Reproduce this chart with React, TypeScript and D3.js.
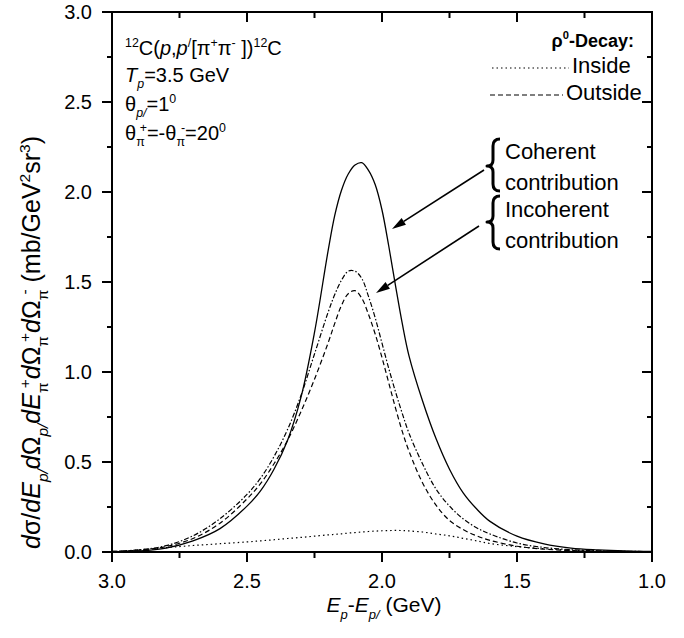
import React from "react";
import * as d3 from "d3";

// ---------- data ----------
const energy = [3.0, 2.9, 2.8, 2.7, 2.6, 2.5, 2.45, 2.4, 2.35, 2.3, 2.25, 2.2, 2.175, 2.15, 2.125, 2.1, 2.075, 2.05, 2.025, 2.0, 1.975, 1.95, 1.925, 1.9, 1.85, 1.8, 1.75, 1.7, 1.65, 1.6, 1.5, 1.4, 1.3, 1.2, 1.1, 1.0];

const coherent = [0.001, 0.006, 0.022, 0.062, 0.13, 0.255, 0.34, 0.46, 0.62, 0.86, 1.22, 1.67, 1.87, 2.01, 2.1, 2.15, 2.163, 2.12, 2.04, 1.9, 1.7, 1.48, 1.27, 1.09, 0.84, 0.63, 0.46, 0.33, 0.24, 0.17, 0.088, 0.045, 0.022, 0.012, 0.006, 0.003];
const incoherent = [0.003, 0.012, 0.035, 0.09, 0.185, 0.32, 0.41, 0.53, 0.68, 0.87, 1.1, 1.33, 1.43, 1.51, 1.56, 1.56, 1.52, 1.42, 1.3, 1.16, 1.02, 0.89, 0.77, 0.66, 0.49, 0.35, 0.255, 0.185, 0.135, 0.1, 0.05, 0.025, 0.013, 0.007, 0.004, 0.002];
const outside = [0.003, 0.01, 0.03, 0.075, 0.16, 0.295, 0.38, 0.49, 0.62, 0.78, 0.96, 1.16, 1.27, 1.37, 1.435, 1.452, 1.41, 1.32, 1.21, 1.08, 0.94, 0.8, 0.67, 0.56, 0.385, 0.26, 0.175, 0.125, 0.09, 0.065, 0.032, 0.016, 0.008, 0.004, 0.002, 0.001];
const inside = [0.001, 0.012, 0.024, 0.036, 0.046, 0.056, 0.062, 0.068, 0.075, 0.081, 0.088, 0.095, 0.098, 0.101, 0.105, 0.108, 0.111, 0.114, 0.116, 0.118, 0.119, 0.12, 0.119, 0.117, 0.111, 0.1, 0.09, 0.076, 0.062, 0.047, 0.03, 0.018, 0.01, 0.005, 0.002, 0.001];

const xMajor = [3.0, 2.5, 2.0, 1.5, 1.0];
const xMinor = [2.75, 2.25, 1.75, 1.25];
const yMajor = [0, 0.5, 1.0, 1.5, 2.0, 2.5, 3.0];
const yMinor = [0.25, 0.75, 1.25, 1.75, 2.25, 2.75];

const FONT = "'Liberation Sans', Arial, Helvetica, sans-serif";

type Seg = { t: string; it?: boolean; sub?: boolean; sup?: boolean; dx?: number };

function Rich(props: {
  x: number;
  y: number;
  size: number;
  segs: Seg[];
  anchor?: string;
  bold?: boolean;
  transform?: string;
}) {
  const { x, y, size, segs, anchor, bold, transform } = props;
  let level = 0;
  const subOff = size * 0.32;
  const supOff = -size * 0.42;
  return (
    <text
      x={x}
      y={y}
      fontSize={size}
      fontFamily={FONT}
      textAnchor={anchor || "start"}
      fontWeight={bold ? "bold" : "normal"}
      transform={transform}
      fill="#000"
    >
      {segs.map((s, i) => {
        const target = s.sub ? subOff : s.sup ? supOff : 0;
        const dy = target - level;
        level = target;
        return (
          <tspan
            key={i}
            dy={dy}
            dx={s.dx || 0}
            fontStyle={s.it ? "italic" : "normal"}
            fontSize={s.sub || s.sup ? size * 0.62 : size}
          >
            {s.t}
          </tspan>
        );
      })}
    </text>
  );
}

export default function App() {
  const left = 112, right = 652, top = 12, bottom = 552;
  const x = d3.scaleLinear().domain([3.0, 1.0]).range([left, right]);
  const y = d3.scaleLinear().domain([0, 3.0]).range([bottom, top]);

  const line = d3
    .line<number>()
    .x((_, i) => x(energy[i]))
    .y((d) => y(Math.max(0, d)))
    .curve(d3.curveCatmullRom.alpha(0.5));

  const fmt = d3.format(".1f");

  const arrow = (x1: number, y1: number, x2: number, y2: number) => {
    const ang = Math.atan2(y2 - y1, x2 - x1);
    const L = 14, Wd = 4;
    const bx = x2 - L * Math.cos(ang), by = y2 - L * Math.sin(ang);
    const px = -Math.sin(ang) * Wd, py = Math.cos(ang) * Wd;
    return (
      <g>
        <line x1={x1} y1={y1} x2={bx} y2={by} stroke="#000" strokeWidth={1.6} />
        <polygon points={`${x2},${y2} ${bx + px},${by + py} ${bx - px},${by - py}`} fill="#000" />
      </g>
    );
  };

  const brace = (xt: number, t: number, b: number, m: number) => {
    const xs = xt + 6, xe = xt + 13;
    const d = `M${xe},${t} Q${xs},${t} ${xs},${t + 7} L${xs},${m - 6} Q${xs},${m} ${xt},${m} Q${xs},${m} ${xs},${m + 6} L${xs},${b - 7} Q${xs},${b} ${xe},${b}`;
    return <path d={d} fill="none" stroke="#000" strokeWidth={3} strokeLinejoin="round" />;
  };

  return (
    <div style={{ position: "fixed", left: 0, top: 0, width: 684, height: 638, background: "#fff" }}>
      <svg width={684} height={638} style={{ display: "block" }}>
        <rect width={684} height={638} fill="#fff" />

        {/* curves */}
        <path d={line(coherent) || ""} fill="none" stroke="#000" strokeWidth={1.3} />
        <path d={line(incoherent) || ""} fill="none" stroke="#000" strokeWidth={1.2} strokeDasharray="5,2,1.5,2" />
        <path d={line(outside) || ""} fill="none" stroke="#000" strokeWidth={1.2} strokeDasharray="5,3" />
        <path d={line(inside) || ""} fill="none" stroke="#000" strokeWidth={1.2} strokeDasharray="1.5,3" />

        {/* frame */}
        <rect x={left} y={top} width={right - left} height={bottom - top} fill="none" stroke="#000" strokeWidth={2} />

        {/* x ticks */}
        {xMajor.map((v) => (
          <g key={"xm" + v}>
            <line x1={x(v)} x2={x(v)} y1={bottom} y2={bottom + 10} stroke="#000" strokeWidth={2} />
            <line x1={x(v)} x2={x(v)} y1={top} y2={top + 10} stroke="#000" strokeWidth={2} />
            <text x={x(v)} y={588} fontSize={20} fontFamily={FONT} textAnchor="middle">
              {fmt(v)}
            </text>
          </g>
        ))}
        {xMinor.map((v) => (
          <g key={"xn" + v}>
            <line x1={x(v)} x2={x(v)} y1={bottom} y2={bottom + 6} stroke="#000" strokeWidth={2} />
            <line x1={x(v)} x2={x(v)} y1={top} y2={top + 6} stroke="#000" strokeWidth={2} />
          </g>
        ))}
        {/* y ticks */}
        {yMajor.map((v) => (
          <g key={"ym" + v}>
            <line x1={left - 10} x2={left} y1={y(v)} y2={y(v)} stroke="#000" strokeWidth={2} />
            <line x1={right - 10} x2={right} y1={y(v)} y2={y(v)} stroke="#000" strokeWidth={2} />
            <text x={92} y={y(v) + 7} fontSize={20} fontFamily={FONT} textAnchor="end">
              {fmt(v)}
            </text>
          </g>
        ))}
        {yMinor.map((v) => (
          <g key={"yn" + v}>
            <line x1={left - 5} x2={left} y1={y(v)} y2={y(v)} stroke="#000" strokeWidth={2} />
            <line x1={right - 5} x2={right} y1={y(v)} y2={y(v)} stroke="#000" strokeWidth={2} />
          </g>
        ))}

        {/* axis titles */}
        <Rich
          x={384}
          y={612}
          size={21}
          anchor="middle"
          segs={[
            { t: "E", it: true },
            { t: "p", it: true, sub: true },
            { t: "-" },
            { t: "E", it: true },
            { t: "p/", it: true, sub: true },
            { t: " (GeV)" },
          ]}
        />
        <Rich
          x={0}
          y={0}
          size={25}
          anchor="start"
          transform="translate(40,549) rotate(-90)"
          segs={[
            { t: "d", it: true },
            { t: "σ/" },
            { t: "dE", it: true },
            { t: "p/", it: true, sub: true },
            { t: "d", it: true },
            { t: "Ω" },
            { t: "p/", it: true, sub: true },
            { t: "dE", it: true },
            { t: "π", sub: true },
            { t: "+", sup: true, dx: -6 },
            { t: "d", it: true },
            { t: "Ω" },
            { t: "π", sub: true },
            { t: "+", sup: true, dx: -6 },
            { t: "d", it: true },
            { t: "Ω" },
            { t: "π", sub: true },
            { t: "-", sup: true, dx: -5 },
            { t: "  (mb/GeV" },
            { t: "2", sup: true },
            { t: "sr" },
            { t: "3", sup: true },
            { t: ")" },
          ]}
        />

        {/* top-left annotation */}
        <Rich
          x={125}
          y={55}
          size={20}
          segs={[
            { t: "12", sup: true },
            { t: "C(" },
            { t: "p", it: true },
            { t: "," },
            { t: "p", it: true },
            { t: "/", sup: true },
            { t: "[π" },
            { t: "+", sup: true },
            { t: "π" },
            { t: "-", sup: true },
            { t: " ])" },
            { t: "12", sup: true },
            { t: "C" },
          ]}
        />
        <Rich
          x={125}
          y={82}
          size={20}
          segs={[
            { t: "T", it: true },
            { t: "p", it: true, sub: true },
            { t: "=3.5 GeV" },
          ]}
        />
        <Rich
          x={125}
          y={111}
          size={20}
          segs={[
            { t: "θ" },
            { t: "p/", it: true, sub: true },
            { t: "=1" },
            { t: "0", sup: true },
          ]}
        />
        <Rich
          x={125}
          y={140}
          size={20}
          segs={[
            { t: "θ" },
            { t: "π", sub: true },
            { t: "+", sup: true, dx: -5 },
            { t: "=-θ" },
            { t: "π", sub: true },
            { t: "-", sup: true, dx: -4 },
            { t: "=20" },
            { t: "0", sup: true },
          ]}
        />

        {/* legend */}
        <Rich
          x={634}
          y={47}
          size={18}
          bold
          anchor="end"
          segs={[{ t: "ρ" }, { t: "0", sup: true }, { t: "-Decay:" }]}
        />
        <line x1={492} x2={569} y1={68} y2={68} stroke="#000" strokeWidth={1.2} strokeDasharray="1.5,3" />
        <text x={572} y={73} fontSize={22} fontFamily={FONT}>
          Inside
        </text>
        <line x1={490} x2={563} y1={95} y2={95} stroke="#000" strokeWidth={1.2} strokeDasharray="5,3" />
        <text x={566} y={100} fontSize={22} fontFamily={FONT}>
          Outside
        </text>

        {/* braces & arrows */}
        {brace(487, 139, 191, 166)}
        {brace(487, 196, 249, 222)}
        <text x={505} y={159} fontSize={22} fontFamily={FONT}>Coherent</text>
        <text x={505} y={190} fontSize={22} fontFamily={FONT}>contribution</text>
        <text x={505} y={217} fontSize={22} fontFamily={FONT}>Incoherent</text>
        <text x={505} y={248} fontSize={22} fontFamily={FONT}>contribution</text>
        {arrow(484, 170, 392, 229)}
        {arrow(479, 226, 376, 293)}
      </svg>
    </div>
  );
}
